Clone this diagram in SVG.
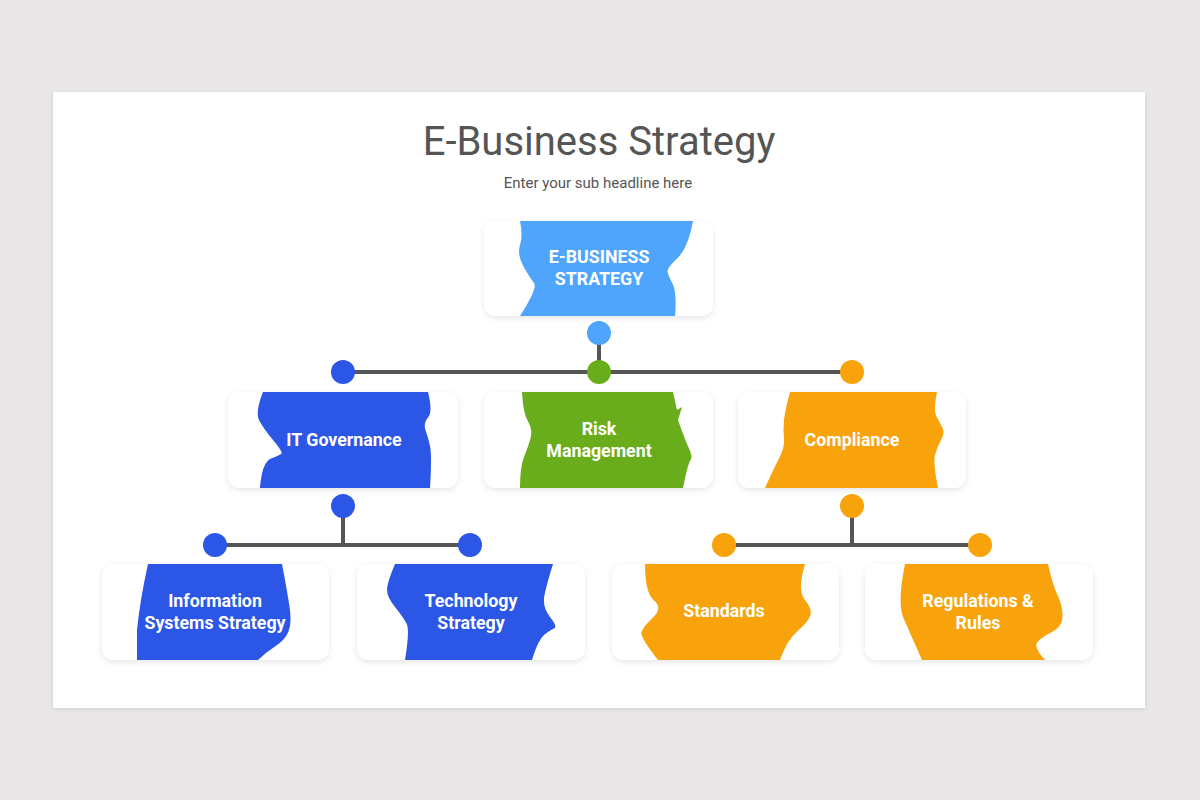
<svg xmlns="http://www.w3.org/2000/svg" width="1200" height="800" viewBox="0 0 1200 800">
<defs>
<filter id="sh" x="-10%" y="-10%" width="120%" height="130%"><feDropShadow dx="0" dy="2" stdDeviation="3" flood-color="#000" flood-opacity="0.10"/></filter>
<filter id="sh2" x="-5%" y="-5%" width="110%" height="110%"><feDropShadow dx="0" dy="1" stdDeviation="2" flood-color="#000" flood-opacity="0.12"/></filter>
</defs>
<style>
.card{fill:#fff;filter:url(#sh)}
.lb{fill:#4fa5fb}.bl{fill:#2c56e6}.gr{fill:#6aad1c}.or{fill:#f8a30c}
.lbl{font-family:Roboto,"Liberation Sans",sans-serif;font-weight:bold;font-size:17.8px;fill:#fff;text-anchor:middle}
.ln{stroke:#555;stroke-width:4;fill:none}
</style>
<rect width="1200" height="800" fill="#e9e7e8"/>
<rect x="53" y="92" width="1092" height="616" fill="#fff" filter="url(#sh2)"/>
<text x="599" y="155" font-family="Roboto,'Liberation Sans',sans-serif" font-size="40" fill="#555" text-anchor="middle">E-Business Strategy</text>
<text x="598" y="188" font-family="Roboto,'Liberation Sans',sans-serif" font-size="15" fill="#555" text-anchor="middle">Enter your sub headline here</text>

<g id="connectors">
<path class="ln" d="M599,333 V372 M343,372 H852 M343,506 V545 M215,545 H470 M852,506 V545 M724,545 H980"/>
<circle cx="599" cy="333" r="12" class="lb"/>
<circle cx="343" cy="372" r="12" class="bl"/>
<circle cx="599" cy="372" r="12" class="gr"/>
<circle cx="852" cy="372" r="12" class="or"/>
<circle cx="343" cy="506" r="12" class="bl"/>
<circle cx="215" cy="545" r="12" class="bl"/>
<circle cx="470" cy="545" r="12" class="bl"/>
<circle cx="852" cy="506" r="12" class="or"/>
<circle cx="724" cy="545" r="12" class="or"/>
<circle cx="980" cy="545" r="12" class="or"/>
</g>

<g id="node-ebusiness">
<rect class="card" x="484" y="221" width="229" height="95" rx="12"/>
<path class="lb" d="M520,221 L693,221 Q688,248 677.5,258 Q667,268 667.5,271.5 Q668,275 672.5,283.5 Q677,292 675,316 L520,316 Q538,288 534,283 Q530,278 523.5,266.5 Q517,255 520,245 Q523,235 520,221 Z"/>
<text class="lbl" x="599" y="263">E-BUSINESS</text>
<text class="lbl" x="599" y="285">STRATEGY</text>
</g>

<g id="node-itgov">
<rect class="card" x="228" y="392" width="230" height="96" rx="12"/>
<path class="bl" d="M263,392 L428,392 Q433,412 428,417.5 Q423,423 425.5,430 Q428,437 430,446 Q432,455 430,488 L260,488 Q262,462 271,458.5 Q280,455 281.5,453.5 Q283,452 273,440 Q263,428 259,420 Q255,412 263,392 Z"/>
<text class="lbl" x="344" y="446">IT Governance</text>
</g>

<g id="node-risk">
<rect class="card" x="484" y="392" width="229" height="96" rx="12"/>
<path class="gr" d="M522,392 L673,392 L677,410 L682,407 L678,420 Q685,440 689,448.5 Q693,457 690.5,460 Q688,463 683,488 L520,488 Q520,467 524,457 Q528,447 530.5,438.5 Q533,430 528,421.5 Q523,413 522,392 Z"/>
<text class="lbl" x="599" y="435">Risk</text>
<text class="lbl" x="599" y="457">Management</text>
</g>

<g id="node-compliance">
<rect class="card" x="738" y="392" width="228" height="96" rx="12"/>
<path class="or" d="M790,392 L937,392 Q933,410 936.5,416.5 Q940,423 942.5,428 Q945,433 941,440 Q937,447 935,455 Q933,463 938,488 L765,488 Q773,470 779,458.5 Q785,447 784,438.5 Q783,430 784,420 Q785,410 790,392 Z"/>
<text class="lbl" x="852" y="446">Compliance</text>
</g>

<g id="node-info">
<rect class="card" x="102" y="564" width="227" height="96" rx="12"/>
<path class="bl" d="M148,564 L282,564 Q287,590 289.5,606.5 Q292,623 288.5,631.5 Q285,640 275,646.5 Q265,653 258,660 L137,660 L137,630 Q140,600 148,564 Z"/>
<text class="lbl" x="215" y="607">Information</text>
<text class="lbl" x="215" y="629">Systems Strategy</text>
</g>

<g id="node-tech">
<rect class="card" x="357" y="564" width="228" height="96" rx="12"/>
<path class="bl" d="M395,564 L553,564 Q547,583 544.5,595 Q542,607 550,617 Q558,627 554,628.5 Q550,630 544,635 Q538,640 532,660 L405,660 Q410,630 406.5,623.5 Q403,617 395,607 Q387,597 387,590 Q387,583 395,564 Z"/>
<text class="lbl" x="471" y="607">Technology</text>
<text class="lbl" x="471" y="629">Strategy</text>
</g>

<g id="node-standards">
<rect class="card" x="612" y="564" width="227" height="96" rx="12"/>
<path class="or" d="M645,564 L805,564 Q797,590 805,600 Q813,610 810,616.5 Q807,623 797,631.5 Q787,640 780,660 L658,660 Q640,637 641.5,632 Q643,627 653,617.5 Q663,608 654,600.5 Q645,593 645,564 Z"/>
<text class="lbl" x="724" y="617">Standards</text>
</g>

<g id="node-regulations">
<rect class="card" x="865" y="564" width="228" height="96" rx="12"/>
<path class="or" d="M905,564 L1048,564 Q1052,583 1057.5,595 Q1063,607 1062.5,617 Q1062,627 1052,632 Q1042,637 1037.5,642 Q1033,647 1045,660 L922,660 Q910,633 903.5,618 Q897,603 905,564 Z"/>
<text class="lbl" x="978" y="607">Regulations &amp;</text>
<text class="lbl" x="978" y="629">Rules</text>
</g>
</svg>
